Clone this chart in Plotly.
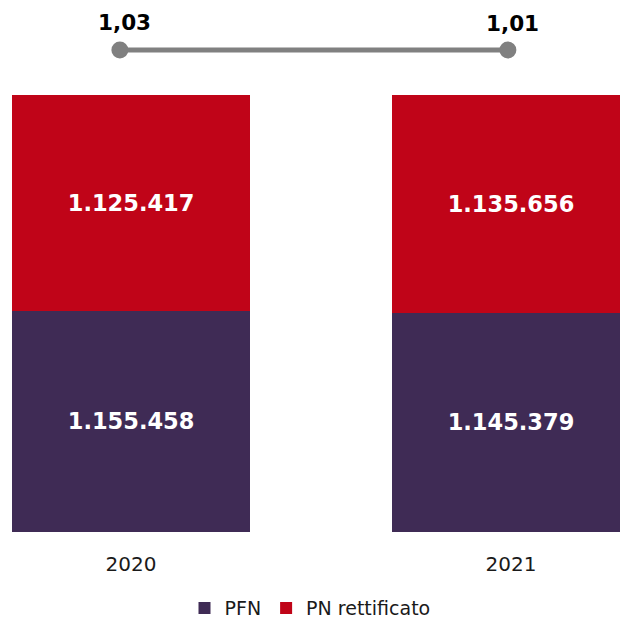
import plotly.graph_objects as go

# Data
years = ["2020", "2021"]
pfn = [1155458, 1145379]            # PFN
pn_rettificato = [1125417, 1135656]  # PN rettificato
ratio = [1.03, 1.01]                # PFN / PN rettificato

RED = "#C00418"
PURPLE = "#3F2B55"
GREY = "#808080"
FONT = "DejaVu Sans"


def fmt_it(v):
    return f"{v:,}".replace(",", ".")


def fmt_ratio(v):
    return f"{v:.2f}".replace(".", ",")


label_font = dict(family=FONT, size=22.5, color="white")

fig = go.Figure()

fig.add_trace(go.Bar(
    x=years, y=pfn, name="PFN",
    marker=dict(color=PURPLE, line=dict(width=0)),
    text=[fmt_it(v) for v in pfn], texttemplate="<b>%{text}</b>",
    textposition="inside", insidetextanchor="middle", textangle=0,
    textfont=label_font, constraintext="none", hoverinfo="skip",
))
fig.add_trace(go.Bar(
    x=years, y=pn_rettificato, name="PN rettificato",
    marker=dict(color=RED, line=dict(width=0)),
    text=[fmt_it(v) for v in pn_rettificato], texttemplate="<b>%{text}</b>",
    textposition="inside", insidetextanchor="middle", textangle=0,
    textfont=label_font, constraintext="none", hoverinfo="skip",
))

# Ratio line drawn above the bars
fig.add_trace(go.Scatter(
    x=years, y=ratio, xaxis="x2", yaxis="y2",
    mode="lines+markers", showlegend=False, hoverinfo="skip",
    line=dict(color=GREY, width=5),
    marker=dict(color=GREY, size=17),
))

# Ratio labels (category axes take the position index)
annotations = [
    dict(x=i, y=r, xref="x2", yref="y2", text=f"<b>{fmt_ratio(r)}</b>",
         showarrow=False, xshift=5, yshift=27,
         font=dict(family=FONT, size=21.5, color="black"))
    for i, r in enumerate(ratio)
]

fig.update_layout(
    width=620, height=630,
    margin=dict(l=0, r=0, t=0, b=98),
    paper_bgcolor="white", plot_bgcolor="white",
    barmode="stack", barnorm="percent", bargap=0.374,
    showlegend=True,
    legend=dict(orientation="h", x=0.5, xanchor="center",
                y=-0.143, yanchor="middle", itemwidth=30,
                font=dict(family=FONT, size=19, color="#1a1a1a"),
                itemclick=False, traceorder="normal"),
    xaxis=dict(type="category", range=[-0.345, 1.287], showgrid=False,
               showline=False, zeroline=False, ticks="",
               ticklabelstandoff=18,
               tickfont=dict(family=FONT, size=20, color="#1a1a1a")),
    yaxis=dict(domain=[0, 0.8214], range=[0, 100], visible=False),
    xaxis2=dict(type="category", range=[-0.309, 1.289], anchor="y2",
                visible=False),
    yaxis2=dict(domain=[0.83, 1.0], range=[-3.45, 6.55], anchor="x2",
                visible=False),
    annotations=annotations,
)

fig.write_html("out.html")
